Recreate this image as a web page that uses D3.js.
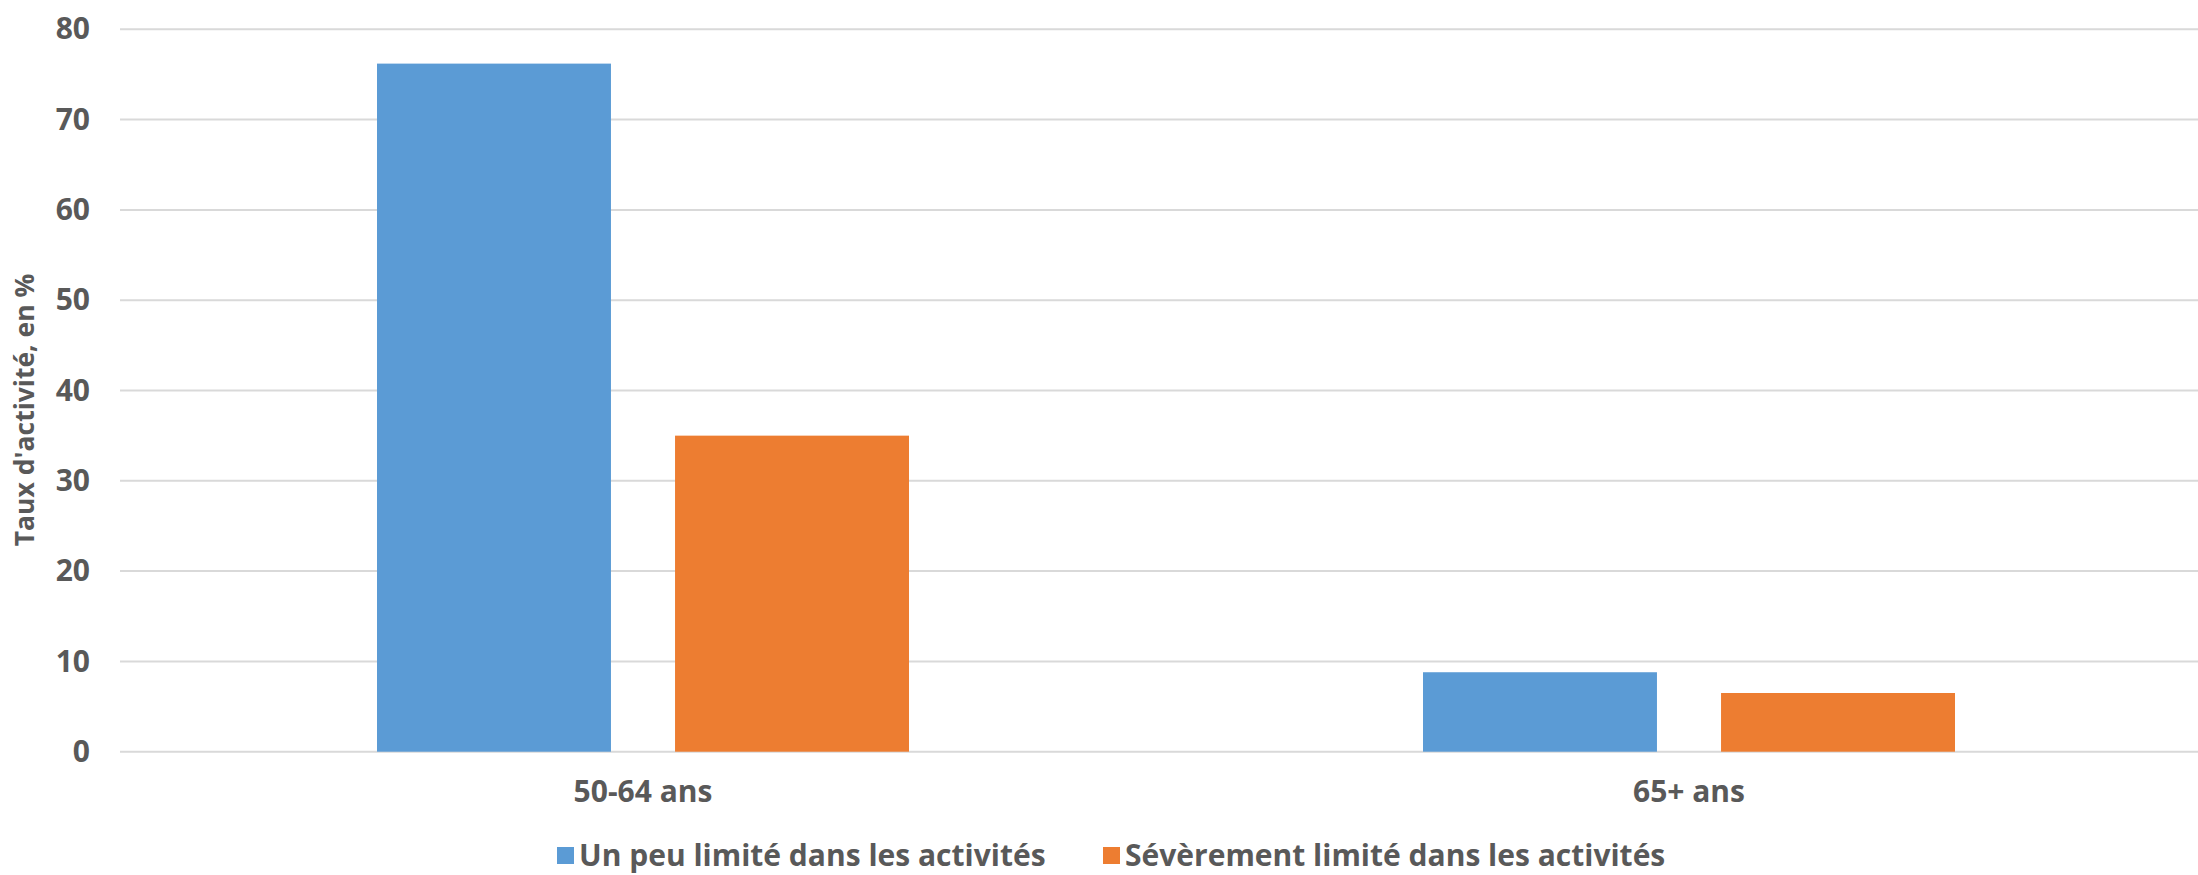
<!DOCTYPE html>
<html>
<head>
<meta charset="utf-8">
<script src="https://cdn.jsdelivr.net/npm/d3@7"></script>
<style>
	body { margin: 0; background: #fff; }
	svg text { font-family: "Open Sans", sans-serif; font-weight: 700; fill: #595959; }
</style>
</head>
<body>
<div id="chart-area"></div>
<script>

// data
let categories = ["50-64 ans", "65+ ans"];
let seriesNames = ["Un peu limité dans les activités", "Sévèrement limité dans les activités"];
let peuLimite = [76.2, 8.8];
let severementLimite = [35.0, 6.5];
let yTicks = [0, 10, 20, 30, 40, 50, 60, 70, 80];

let colors = ["#5B9BD5", "#ED7D31"];

let width = 2198,
	height = 875;

let svg = d3.select("#chart-area").append("svg")
	.attr("width", width)
	.attr("height", height);

// plot runs a little past the right edge, like the original
let plotLeft = 120, plotRight = 2212, plotTop = 29.3, plotBottom = 751.7;

let y = d3.scaleLinear()
	.domain([0, 80])
	.range([plotBottom, plotTop]);

let x0 = d3.scaleBand()
	.domain(categories)
	.range([plotLeft, plotRight])
	.paddingInner(0.4914)
	.paddingOuter(0.2457);

let x1 = d3.scaleBand()
	.domain(seriesNames)
	.range([0, x0.bandwidth()])
	.paddingInner(0.215);

let rows = categories.map((c, i) => ({
	cat: c,
	vals: [peuLimite[i], severementLimite[i]]
}));

// gridlines
svg.append("g")
	.selectAll("line")
	.data(yTicks)
	.enter()
	.append("line")
	.attr("x1", plotLeft)
	.attr("x2", plotRight)
	.attr("y1", d => y(d))
	.attr("y2", d => y(d))
	.attr("stroke", "#d9d9d9")
	.attr("stroke-width", 2);

// y axis labels
let yAxis = d3.axisLeft(y)
	.tickValues(yTicks)
	.tickSize(0)
	.tickPadding(0);

let yAxisG = svg.append("g")
	.attr("class", "y-axis")
	.attr("transform", "translate(90,0)")
	.call(yAxis);
yAxisG.select(".domain").remove();
yAxisG.selectAll("text")
	.attr("font-size", 30)
	.attr("font-family", "Open Sans")
	.attr("dy", "0.32em")
	.attr("fill", "#595959");

// bars
let groups = svg.append("g")
	.selectAll("g")
	.data(rows)
	.enter()
	.append("g")
	.attr("transform", d => "translate(" + x0(d.cat) + ",0)");

groups.selectAll("rect")
	.data(d => d.vals.map((v, i) => ({name: seriesNames[i], value: v, i: i})))
	.enter()
	.append("rect")
	.attr("x", d => x1(d.name))
	.attr("width", x1.bandwidth())
	.attr("y", d => y(d.value))
	.attr("height", d => y(0) - y(d.value))
	.attr("fill", d => colors[d.i]);

// category labels
let xAxis = d3.axisBottom(x0)
	.tickSize(0)
	.tickPadding(0);

let xAxisG = svg.append("g")
	.attr("class", "x-axis")
	.attr("transform", "translate(0,781)")
	.call(xAxis);
xAxisG.select(".domain").remove();
xAxisG.selectAll("text")
	.attr("font-size", 30)
	.attr("font-family", "Open Sans")
	.attr("dy", "0.71em")
	.attr("fill", "#595959");

// y axis title
svg.append("text")
	.attr("transform", "translate(34,410) rotate(-90)")
	.attr("text-anchor", "middle")
	.attr("font-size", 26.5)
	.text("Taux d'activité, en %");

// legend
let legendX = [557, 1103];
let legend = svg.append("g")
	.selectAll("g")
	.data(seriesNames)
	.enter()
	.append("g")
	.attr("transform", (d, i) => "translate(" + legendX[i] + ",847)");

legend.append("rect")
	.attr("width", 17)
	.attr("height", 17)
	.attr("fill", (d, i) => colors[i]);

legend.append("text")
	.attr("x", 22)
	.attr("y", 19)
	.attr("font-size", 30)
	.text(d => d);

</script>
</body>
</html>
